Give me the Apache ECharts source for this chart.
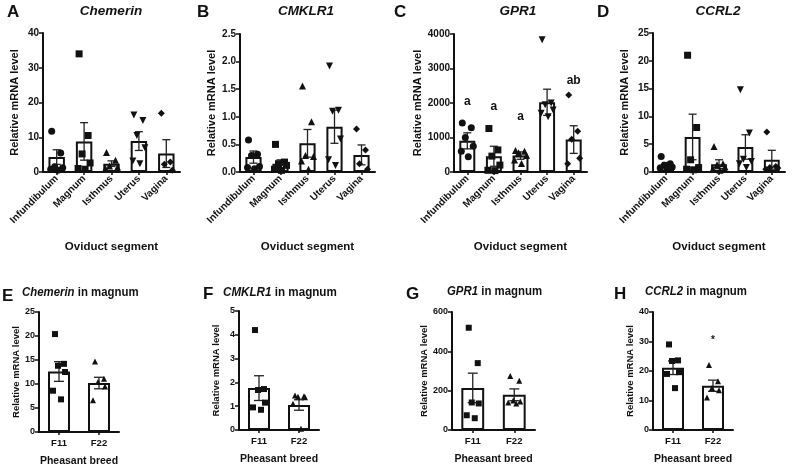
<!DOCTYPE html>
<html><head><meta charset="utf-8">
<script src="https://cdn.jsdelivr.net/npm/echarts@6/dist/echarts.min.js"></script>
<style>html,body{margin:0;padding:0;background:#fff}#c{width:796px;height:468px}</style>
</head><body><div id="c"></div>
<script>
// ---------- data ----------
const segments = ['Infundibulum','Magnum','Isthmus','Uterus','Vagina'];
const breeds = ['F11','F22'];

const chemerinMean = [4.3, 8.8, 2.4, 8.9, 5.3];
const chemerinSem  = [2.1, 5.4, 0.8, 2.7, 4.0];
const chemerinPts  = [[11.7,5.5,1.5,1.2,0.8,0.5],[34,10.5,5.2,2.6,1.0,0.8],[5.6,3.4,1.7,1.4,1.0],[16.4,14.8,10.5,7.0,3.2,2.4],[16.9,2.9,2.2,0.5]];

const cmklr1Mean = [0.27, 0.15, 0.52, 0.82, 0.31];
const cmklr1Sem  = [0.11, 0.07, 0.25, 0.30, 0.18];
const cmklr1Pts  = [[0.58,0.32,0.30,0.10,0.08,0.06],[0.50,0.18,0.15,0.12,0.05,0.03],[1.56,0.91,0.30,0.28,0.20,0.05],[1.92,1.12,1.10,0.60,0.22,0.12],[0.78,0.40,0.15,0.05]];

const gpr1Mean = [903, 456, 476, 2020, 940];
const gpr1Sem  = [233, 290, 107, 380, 400];
const gpr1Pts  = [[1420,1280,1000,750,600,440],[1260,640,460,200,50,40],[620,600,560,480,350,250],[3830,2000,1950,1800,1700,1600],[2230,1180,950,400,240]];
const gpr1Letters = ['a','a','a','b','ab'];
const gpr1LetterY = [2050, 1900, 1600, 4080, 2650];

const ccrl2Mean = [1.3, 6.3, 1.4, 4.5, 2.2];
const ccrl2Sem  = [0.4, 4.1, 0.8, 2.2, 1.7];
const ccrl2Pts  = [[2.8,1.5,1.2,0.9,0.7,0.5],[21,8.0,2.2,0.8,0.5,0.4],[4.6,1.5,1.3,0.9,0.6,0.3],[14.8,7.0,2.3,1.9,1.5,0.8],[7.2,1.0,0.8,0.7,0.5]];

const magChemerinMean = [12.6, 10.2];
const magChemerinSem  = [2.05, 1.2];
const magChemerinPts  = [[20.4,14.2,13.8,12.5,8.6,6.8],[14.7,11.1,10.4,9.5,6.6]];

const magCmklr1Mean = [1.76, 1.05];
const magCmklr1Sem  = [0.52, 0.22];
const magCmklr1Pts  = [[4.2,1.72,1.68,1.15,0.95,0.85],[1.45,1.42,1.40,1.38,1.10,0.05]];

const magGpr1Mean = [214, 179];
const magGpr1Sem  = [75, 30];
const magGpr1Pts  = [[520,340,140,135,75,60],[275,250,150,145,140,135]];

const magCcrl2Mean = [21.1, 15.0];
const magCcrl2Sem  = [2.3, 1.9];
const magCcrl2Pts  = [[29,23.6,23.4,19.6,19.0,14.2],[22,16.5,14.2,13.5,11.0]];
const magCcrl2StarY = 30.3;

// ---------- styling / layout ----------
const FONT = 'Liberation Sans, Arial, sans-serif';
const INK = '#111';
const segSymbols = ['circle','rect','triangle','path://M0,0L10,0L5,9Z','diamond'];
const breedSymbols = ['rect','triangle'];
const jitterTop = [-5,4,-2,6,-6,1,3];
const jitterBot = [-4,5,-1,6,-6,2];

const panels = [
  {grid:{left:43,top:33,width:137,height:139}, cats:segments, mean:chemerinMean, sem:chemerinSem, pts:chemerinPts, max:40, step:10, dec:0, top:true},
  {grid:{left:240,top:34,width:135,height:138}, cats:segments, mean:cmklr1Mean, sem:cmklr1Sem, pts:cmklr1Pts, max:2.5, step:0.5, dec:1, top:true},
  {grid:{left:454,top:34,width:133,height:138}, cats:segments, mean:gpr1Mean, sem:gpr1Sem, pts:gpr1Pts, max:4000, step:1000, dec:0, top:true},
  {grid:{left:653,top:33,width:132,height:139}, cats:segments, mean:ccrl2Mean, sem:ccrl2Sem, pts:ccrl2Pts, max:25, step:5, dec:0, top:true},
  {grid:{left:39,top:312,width:80,height:120}, cats:breeds, mean:magChemerinMean, sem:magChemerinSem, pts:magChemerinPts, max:25, step:5, dec:0, top:false},
  {grid:{left:239,top:311,width:80,height:119}, cats:breeds, mean:magCmklr1Mean, sem:magCmklr1Sem, pts:magCmklr1Pts, max:5, step:1, dec:0, top:false},
  {grid:{left:452,top:312,width:83,height:118}, cats:breeds, mean:magGpr1Mean, sem:magGpr1Sem, pts:magGpr1Pts, max:600, step:200, dec:0, top:false},
  {grid:{left:653,top:312,width:80,height:118}, cats:breeds, mean:magCcrl2Mean, sem:magCcrl2Sem, pts:magCcrl2Pts, max:40, step:10, dec:0, top:false}
];

const grid=[], xAxis=[], yAxis=[], series=[];
panels.forEach((p,i)=>{
  grid.push(p.grid);
  xAxis.push({
    type:'category', gridIndex:i, data:p.cats,
    name: p.top ? 'Oviduct segment' : 'Pheasant breed',
    nameLocation:'middle', nameGap: p.top ? 69 : 24,
    nameTextStyle:{fontFamily:FONT,fontWeight:'bold',fontSize:p.top?11.5:10.5,color:INK},
    axisLine:{lineStyle:{color:INK,width:2}},
    axisTick:{show:true,alignWithLabel:true,length:3,lineStyle:{color:INK,width:1.5}},
    axisLabel:{rotate:p.top?45:0,interval:0,fontFamily:FONT,fontWeight:'bold',fontSize:p.top?10:9.5,color:INK,margin:p.top?5:6}
  });
  yAxis.push({
    type:'value', gridIndex:i, min:0, max:p.max, interval:p.step,
    name:'Relative mRNA level', nameLocation:'middle', nameGap: p.top ? 23 : 18,
    nameTextStyle:{fontFamily:FONT,fontWeight:'bold',fontSize:p.top?11:9.5,color:INK},
    axisLine:{show:true,lineStyle:{color:INK,width:2}},
    axisTick:{show:true,length:4,lineStyle:{color:INK,width:1.5}},
    splitLine:{show:false},
    axisLabel:{fontFamily:FONT,fontWeight:'bold',fontSize:p.top?10:9,color:INK,margin:4,
      formatter:v=>v.toFixed(p.dec)}
  });
  series.push({
    type:'bar', xAxisIndex:i, yAxisIndex:i, data:p.mean, barWidth:p.top?'60%':'55%',
    itemStyle:{color:'#fff',borderColor:INK,borderWidth:2}, silent:true, z:2
  });
  series.push({
    type:'custom', xAxisIndex:i, yAxisIndex:i, z:3,
    data:p.mean.map((m,k)=>[k,m,p.sem[k]]),
    renderItem:(params,api)=>{
      const x=api.value(0), m=api.value(1), s=api.value(2);
      const t=api.coord([x,m+s]), b=api.coord([x,Math.max(0,m-s)]);
      const w=p.top?4:5;
      const st={stroke:'#222',lineWidth:1.3};
      return {type:'group',children:[
        {type:'line',shape:{x1:t[0],y1:t[1],x2:b[0],y2:b[1]},style:st},
        {type:'line',shape:{x1:t[0]-w,y1:t[1],x2:t[0]+w,y2:t[1]},style:st},
        {type:'line',shape:{x1:b[0]-w,y1:b[1],x2:b[0]+w,y2:b[1]},style:st}
      ]};
    }
  });
  const sc=[];
  p.pts.forEach((arr,k)=>{
    arr.forEach((v,j)=>{
      const jit=(p.top?jitterTop:jitterBot)[j%7]||0;
      const sym=p.top?segSymbols[k]:breedSymbols[k];
      sc.push({value:[k,v],symbol:sym,symbolOffset:[jit,0]});
    });
  });
  series.push({type:'scatter',xAxisIndex:i,yAxisIndex:i,data:sc,symbolSize:p.top?7:6,
    itemStyle:{color:INK,opacity:1},z:4,silent:true});
});

// significance letters in panel C
series.push({type:'scatter',xAxisIndex:2,yAxisIndex:2,symbolSize:1,z:5,silent:true,
  itemStyle:{opacity:0},
  data:gpr1LetterY.map((y,k)=>({value:[k,y],label:{show:true,formatter:gpr1Letters[k]}})),
  label:{show:true,position:'inside',fontFamily:FONT,fontWeight:'bold',fontSize:12,color:INK,opacity:1}});
// asterisk in panel H
series.push({type:'scatter',xAxisIndex:7,yAxisIndex:7,symbolSize:1,z:5,silent:true,
  itemStyle:{opacity:0},
  data:[{value:[1,magCcrl2StarY]}],
  label:{show:true,position:'inside',formatter:'*',fontFamily:FONT,fontWeight:'bold',fontSize:10,color:INK,opacity:1}});

// panel letters and titles
const letters=[['A',7,4],['B',197,4],['C',394,4],['D',597,4],['E',2,288],['F',203,286],['G',406,286],['H',614,286]];
const graphic=[];
letters.forEach(l=>graphic.push({type:'text',left:l[1],top:l[2],
  style:{text:l[0],font:'bold 17px '+FONT,fill:INK}}));
const geneTitles=[['Chemerin',111],['CMKLR1',306],['GPR1',518],['CCRL2',718]];
geneTitles.forEach(g=>graphic.push({type:'text',x:g[1],y:11,
  style:{text:g[0],font:'italic bold 13.5px '+FONT,fill:INK,align:'center',verticalAlign:'middle'}}));
const magTitles=[['Chemerin',22,293,0.95],['CMKLR1',223,293,0.97],['GPR1',447,292,0.95],['CCRL2',645,292,0.95]];
magTitles.forEach(g=>graphic.push({type:'text',x:g[1],y:g[2],scaleX:g[3],
  style:{text:'{i|'+g[0]+'}{n| in magnum}',verticalAlign:'middle',
    rich:{i:{fontFamily:FONT,fontStyle:'italic',fontWeight:'bold',fontSize:12,fill:INK,color:INK},
          n:{fontFamily:FONT,fontWeight:'bold',fontSize:12,fill:INK,color:INK}}}}));

const chart=echarts.init(document.getElementById('c'),null,{renderer:'canvas'});
chart.setOption({animation:false,backgroundColor:'#fff',grid,xAxis,yAxis,series,graphic});
</script></body></html>
